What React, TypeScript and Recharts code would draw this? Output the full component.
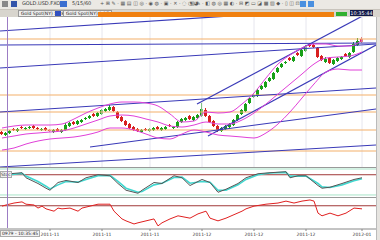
import React from "react";
import { ComposedChart, LineChart, Line, Bar, XAxis, YAxis, ReferenceLine } from "recharts";

// candles (one per bar index)
const opens = [
  68, 65, 67, 71, 69, 73, 71, 72, 74, 72,
  70, 72, 70, 68, 71, 68, 70, 74, 78, 76,
  78, 81, 82, 86, 84, 86, 89, 90, 93, 88,
  83, 79, 76, 73, 71, 68, 71, 69, 70, 73,
  70, 71, 75, 72, 73, 78, 80, 84, 80, 82,
  84, 90, 84, 79, 74, 69, 71, 73, 75, 80,
  86, 89, 97, 103, 104, 111, 113, 119, 121, 128,
  133, 137, 142, 139, 147, 144, 149, 156, 155, 152,
  144, 138, 142, 136, 139, 141, 146, 143, 148, 155,
  161,
];
const closes = [
  66, 67, 69, 70, 71, 72, 72, 73, 72, 71,
  71, 70, 69, 70, 69, 70, 75, 77, 76, 79,
  80, 82, 84, 84, 87, 90, 91, 93, 89, 82,
  79, 75, 72, 70, 69, 70, 70, 71, 72, 71,
  72, 73, 74, 73, 78, 81, 82, 81, 83, 85,
  91, 84, 78, 74, 70, 72, 74, 76, 80, 85,
  90, 96, 102, 105, 110, 114, 118, 122, 127, 132,
  136, 138, 140, 143, 145, 150, 153, 154, 153, 143,
  140, 141, 137, 140, 142, 143, 144, 147, 156, 159,
  158,
];
const highs = [
  69, 68, 70, 72, 72, 74, 73, 74, 75, 73,
  72, 73, 71, 71, 72, 71, 77, 78, 79, 80,
  81, 83, 85, 87, 88, 91, 92, 95, 94, 89,
  84, 80, 77, 74, 72, 71, 72, 72, 73, 74,
  73, 74, 76, 74, 79, 82, 83, 85, 84, 86,
  97, 92, 85, 80, 75, 73, 75, 77, 81, 86,
  91, 97, 103, 106, 111, 115, 119, 123, 128, 133,
  137, 139, 143, 144, 148, 151, 155, 157, 156, 153,
  145, 143, 143, 141, 143, 144, 147, 148, 158, 162,
  163,
];
const lows = [
  65, 64, 66, 69, 68, 71, 70, 71, 71, 70,
  69, 69, 68, 67, 68, 67, 69, 73, 75, 75,
  77, 80, 81, 83, 83, 85, 88, 89, 88, 81,
  78, 74, 71, 69, 68, 67, 69, 68, 69, 70,
  69, 70, 73, 71, 72, 77, 79, 80, 79, 81,
  83, 83, 77, 73, 68, 68, 70, 72, 74, 79,
  85, 88, 96, 102, 103, 110, 112, 118, 120, 127,
  132, 136, 139, 138, 144, 143, 148, 153, 152, 142,
  139, 137, 136, 135, 138, 140, 143, 142, 147, 154,
  157,
];

// bollinger bands, read every third bar
const bandIdx = [0, 3, 6, 9, 12, 15, 18, 21, 24, 27, 30, 33, 36, 39, 42, 45, 48, 51, 54, 57, 60, 63, 66, 69, 72, 75, 78, 81, 84, 87, 90];
const bandUpper = [72, 74, 75, 75, 75, 76, 81, 87, 92, 96, 98, 98, 97, 94, 86, 78, 79, 88, 87, 88, 96, 107, 122, 136, 145, 152, 156, 156, 154, 154, 160];
const bandMid = [62, 64, 66, 67, 68, 69, 72, 76, 80, 84, 85, 84, 81, 78, 74, 73, 75, 78, 76, 76, 80, 87, 96, 106, 116, 126, 136, 142, 143, 144, 148];
const bandLower = [50, 52, 56, 59, 61, 62, 63, 65, 68, 72, 72, 70, 66, 62, 61, 66, 70, 68, 65, 64, 63, 62, 67, 76, 88, 102, 116, 128, 131, 130, 130];

// drawn trend lines: [bar1, price1, bar2, price2]
const trendLines = [
  [-0.5, 169, 60.75, 185],
  [-0.5, 155, 93.5, 157],
  [-0.5, 132, 93.5, 156],
  [-0.5, 88, 93.5, 112],
  [22, 53, 93.5, 91],
  [-0.5, 33, 93.5, 55],
  [48.75, 96, 92, 188],
  [51.5, 64, 93.5, 155],
];
const levels = [161, 105, 88, 70, 49];

// stochastic
const stochIdx = [0, 2, 5, 6, 9, 11, 12, 14, 16, 19, 21, 24, 27, 29, 31, 34, 35, 38, 40, 43, 45, 47, 50, 52, 54, 56, 59, 61, 64, 67, 71, 72, 74, 76, 79, 80, 82, 85, 88, 90];
const stochK = [74, 83, 86, 71, 54, 40, 34, 57, 63, 57, 71, 80, 77, 54, 34, 25, 34, 57, 54, 77, 71, 48, 66, 57, 28, 37, 54, 71, 83, 86, 89, 71, 77, 77, 48, 40, 43, 54, 66, 71];
const stochD = [72, 80, 84, 76, 60, 46, 38, 50, 60, 58, 66, 77, 78, 60, 40, 28, 30, 50, 55, 72, 73, 55, 60, 58, 34, 34, 50, 66, 80, 85, 87, 76, 76, 76, 54, 44, 42, 50, 62, 68];

// rsi
const rsiIdx = [0, 1, 3, 5, 6, 8, 9, 10, 11, 13, 14, 15, 17, 19, 20, 22, 24, 26, 27, 28, 30, 31, 33, 34, 36, 38, 39, 40, 42, 44, 47, 49, 51, 52, 54, 56, 60, 61, 63, 66, 69, 71, 73, 75, 77, 78, 79, 80, 82, 84, 86, 88, 90];
const rsiVal = [69, 72, 77, 80, 74, 72, 64, 69, 62, 56, 64, 62, 64, 56, 64, 69, 74, 74, 74, 56, 36, 31, 23, 26, 31, 36, 18, 26, 36, 44, 38, 49, 56, 38, 31, 38, 56, 62, 69, 74, 77, 82, 77, 82, 85, 82, 51, 44, 51, 44, 51, 64, 62];

const tickIdx = [12, 25, 37, 50, 63, 76, 90];
const tickLabels = ["2011-11", "2011-11", "2011-11", "2011-12", "2011-12", "2011-12", "2012-01"];

const candleData = closes.map((c, i) => {
  const b = bandIdx.indexOf(i);
  return {
    i,
    open: opens[i],
    close: c,
    high: highs[i],
    low: lows[i],
    range: [lows[i], highs[i]],
    up: b >= 0 ? bandUpper[b] : null,
    mid: b >= 0 ? bandMid[b] : null,
    lo: b >= 0 ? bandLower[b] : null,
  };
});
const stochData = stochIdx.map((i, n) => ({ i, k: stochK[n], d: stochD[n] }));
const rsiData = rsiIdx.map((i, n) => ({ i, v: rsiVal[n] }));

const W = 376;
const X_DOMAIN: [number, number] = [-0.5, 93.5];

const Candle = (props: any) => {
  const { x, y, width, height, payload } = props;
  const top = Math.min(y, y + height);
  const h = Math.abs(height);
  const k = h / (payload.high - payload.low || 1);
  const yO = top + (payload.high - payload.open) * k;
  const yC = top + (payload.high - payload.close) * k;
  const color = payload.close >= payload.open ? "#18a018" : "#d82020";
  const cx = x + width / 2;
  return (
    <g>
      <line x1={cx} x2={cx} y1={top} y2={top + h} stroke={color} strokeWidth={1} />
      <rect x={cx - 1.5} width={3} y={Math.min(yO, yC)} height={Math.max(1, Math.abs(yC - yO))} fill={color} />
    </g>
  );
};

const font = "'DejaVu Sans', sans-serif";

const App = () => {
  return (
    <div style={{ position: "fixed", left: 0, top: 0, width: 380, height: 240, background: "#fff", overflow: "hidden", fontFamily: font }}>
      {/* toolbar */}
      <div style={{ position: "absolute", left: 0, top: 0, width: 380, height: 9, background: "#ebe9e4", borderBottom: "1px solid #c8c4bc" }}>
        <span style={{ position: "absolute", left: 2, top: 1, width: 6, height: 6, background: "#888" }} />
        <span style={{ position: "absolute", left: 11, top: 1, width: 6, height: 6, background: "#3355aa" }} />
        <span style={{ position: "absolute", left: 22, top: 0, fontSize: 5, color: "#333" }}>GOLD.USD.FXO</span>
        <span style={{ position: "absolute", left: 60, top: 1, width: 7, height: 6, background: "#3b6fd0" }} />
        <span style={{ position: "absolute", left: 72, top: 0, fontSize: 5, color: "#333" }}>5/15/60</span>
        <span style={{ position: "absolute", left: 100, top: 0, fontSize: 5, color: "#555" }}>+ ⊞  ✎ · ▦ ▤ ◫ ◎ · ◉ ◍ · ▣ · ✕ · ◌ ◔ ◕</span>
        <span style={{ position: "absolute", left: 190, top: 0, fontSize: 5, color: "#555" }}>▥ ✎ · ◧ ◍ ◎ ▦ ◐ · ⊟ ◩ ▭ ◪ ▩ ▨ ◆ · ▯ ◫ ⊡ ◳</span>
        <span style={{ position: "absolute", left: 300, top: 1, width: 6, height: 6, background: "#4a90e0" }} />
        <span style={{ position: "absolute", left: 308, top: 1, width: 6, height: 6, background: "#4a90e0" }} />
      </div>
      {/* tab row */}
      <div style={{ position: "absolute", left: 0, top: 10, width: 380, height: 7, background: "#d8d5ce" }}>
        <span style={{ position: "absolute", left: 18, top: 0, fontSize: 4.5, color: "#222", border: "1px solid #999", padding: "0 2px", background: "#eee", lineHeight: "5px" }}>Gold Spot(NY) 1.28</span>
        <span style={{ position: "absolute", left: 55, top: 1, width: 6, height: 5, background: "#3050c0" }} />
        <span style={{ position: "absolute", left: 63, top: 0, fontSize: 4.5, color: "#222", border: "1px solid #999", padding: "0 2px", background: "#eee", lineHeight: "5px" }}>Gold Spot(NY) 1.27</span>
        <span style={{ position: "absolute", left: 98, top: 2, width: 236, height: 5, background: "#f08010" }} />
        <span style={{ position: "absolute", left: 336, top: 2, width: 11, height: 4, background: "#30b030" }} />
        <span style={{ position: "absolute", left: 350, top: 0, width: 23, height: 6, background: "#101848", color: "#fff", fontSize: 5, lineHeight: "6px", textAlign: "center" }}>10:35:44</span>
      </div>
      {/* right strip */}
      <div style={{ position: "absolute", left: 376, top: 17, width: 4, height: 223, background: "#e6e4e0", borderLeft: "1px solid #bbb" }} />

      {/* main price panel */}
      <div style={{ position: "absolute", left: 0, top: 17 }}>
        <ComposedChart width={W} height={151} data={candleData} margin={{ top: 0, right: 0, bottom: 0, left: 0 }}>
          <XAxis dataKey="i" type="number" domain={X_DOMAIN} allowDataOverflow hide />
          <YAxis type="number" domain={[32, 183]} allowDataOverflow hide />
          {tickIdx.map((t) => (
            <ReferenceLine key={"g" + t} x={t} stroke="#e6e6ee" />
          ))}
          {levels.map((l) => (
            <ReferenceLine key={"l" + l} y={l} stroke="#f4b06a" strokeWidth={1.2} />
          ))}
          {trendLines.map((s, n) => (
            <ReferenceLine
              key={"t" + n}
              segment={[{ x: s[0], y: s[1] }, { x: s[2], y: s[3] }]}
              stroke="#3a3ab8"
              strokeWidth={1.2}
              ifOverflow="hidden"
            />
          ))}
          <Line type="monotone" dataKey="up" stroke="#e040d8" strokeWidth={1} dot={false} connectNulls isAnimationActive={false} />
          <Line type="monotone" dataKey="mid" stroke="#e040d8" strokeWidth={1} dot={false} connectNulls isAnimationActive={false} />
          <Line type="monotone" dataKey="lo" stroke="#e040d8" strokeWidth={1} dot={false} connectNulls isAnimationActive={false} />
          <Bar dataKey="range" barSize={3} shape={<Candle />} isAnimationActive={false} />
        </ComposedChart>
      </div>

      {/* stochastic panel */}
      <div style={{ position: "absolute", left: 0, top: 167, borderTop: "1px solid #999", width: 376 }}>
        <LineChart width={W} height={30} data={stochData} margin={{ top: 0, right: 0, bottom: 0, left: 0 }}>
          <XAxis dataKey="i" type="number" domain={X_DOMAIN} allowDataOverflow hide />
          <YAxis type="number" domain={[11, 100]} allowDataOverflow hide />
          <ReferenceLine y={97} stroke="#a8e4c8" />
          <ReferenceLine y={20} stroke="#a8e4c8" />
          <ReferenceLine y={80} stroke="#a03838" />
          <Line type="linear" dataKey="d" stroke="#40d8d0" strokeWidth={1.6} dot={false} isAnimationActive={false} />
          <Line type="linear" dataKey="k" stroke="#555" strokeWidth={1} dot={false} isAnimationActive={false} />
        </LineChart>
        <span style={{ position: "absolute", left: 0, top: 3, fontSize: 4.5, color: "#333", background: "#f0f0f0", border: "1px solid #aaa", lineHeight: "5px" }}>Stoc</span>
      </div>

      {/* rsi panel + time axis */}
      <div style={{ position: "absolute", left: 0, top: 197, borderTop: "1px solid #999", width: 376 }}>
        <LineChart width={W} height={43} data={rsiData} margin={{ top: 0, right: 0, bottom: 0, left: 0 }}>
          <XAxis
            dataKey="i"
            type="number"
            domain={X_DOMAIN}
            allowDataOverflow
            ticks={tickIdx}
            tickFormatter={(v: number) => tickLabels[tickIdx.indexOf(v)]}
            height={12}
            stroke="#888"
            tickSize={2}
            tick={{ fontSize: 4.5, fill: "#333", fontFamily: font }}
          />
          <YAxis type="number" domain={[10, 90]} allowDataOverflow hide />
          <ReferenceLine y={70} stroke="#a03838" />
          <Line type="linear" dataKey="v" stroke="#e02020" strokeWidth={1} dot={false} isAnimationActive={false} />
        </LineChart>
        <span style={{ position: "absolute", left: 0, top: 32, fontSize: 4.5, color: "#222", background: "#f2f2f2", border: "1px solid #aaa", lineHeight: "5px", padding: "0 1px" }}>0979 - 10:35:45</span>
      </div>

      {/* cursor */}
      <div style={{ position: "absolute", left: 7, top: 17, width: 1, height: 211, background: "#9c7cc4" }} />
    </div>
  );
};

export default App;
